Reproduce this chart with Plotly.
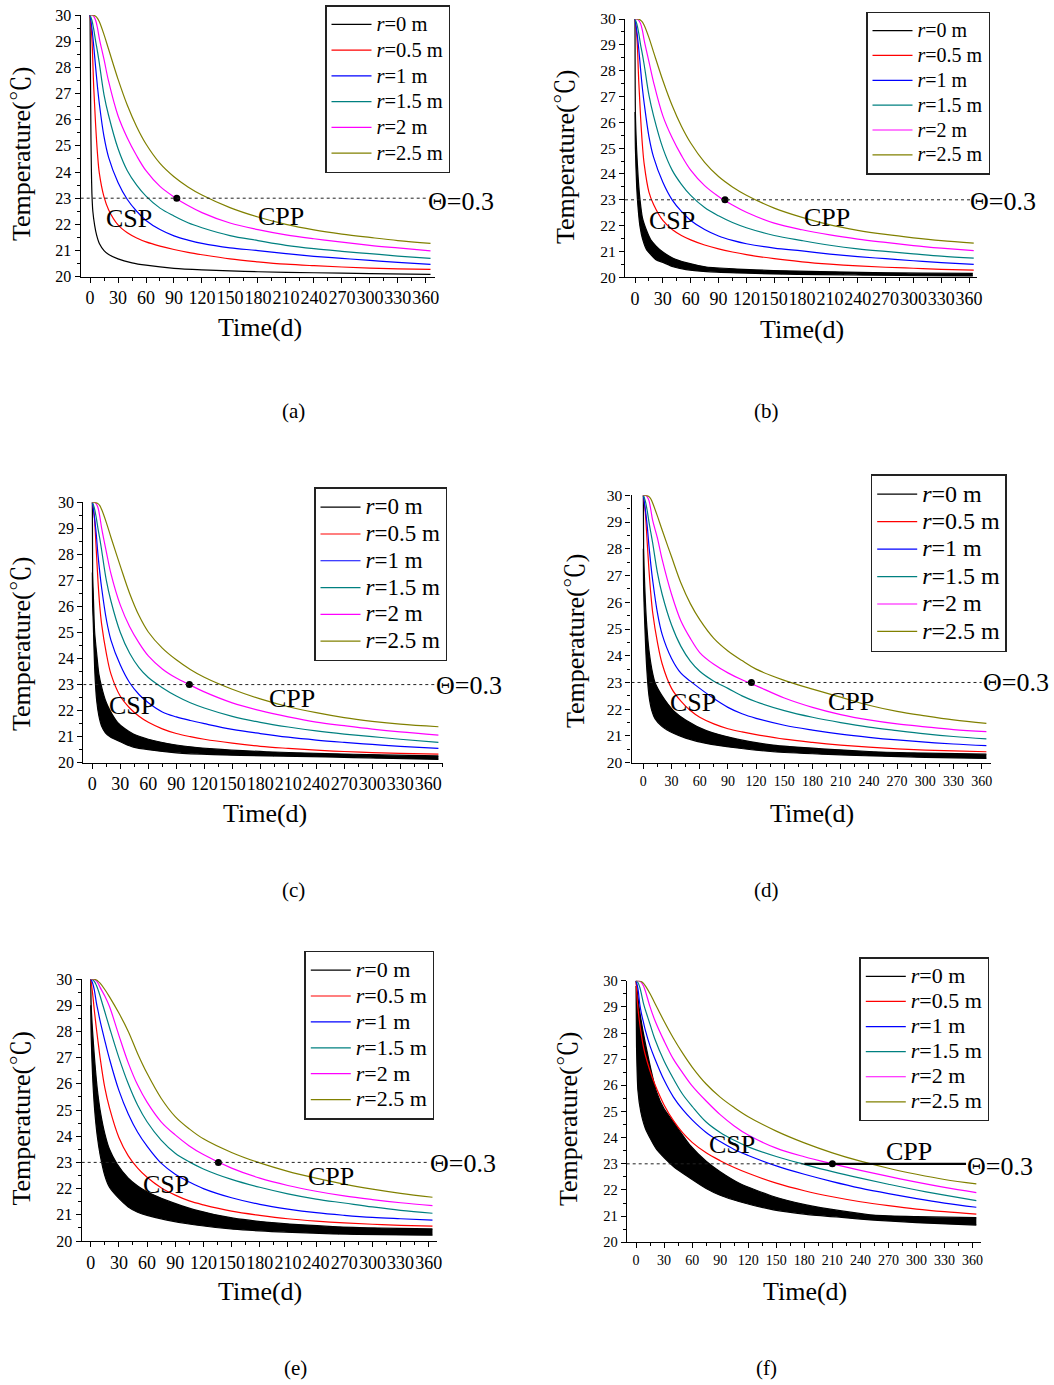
import plotly.graph_objects as go

W, H = 1054, 1385
FONT = "Liberation Serif, Times New Roman, Noto Serif CJK SC, Noto Sans CJK SC, serif"

RADII = ["0", "0.5", "1", "1.5", "2", "2.5"]
COLORS = ["#000000", "#FF0000", "#0000FF", "#008080", "#FF00FF", "#808000"]
PANEL_NAMES = ["(a)", "(b)", "(c)", "(d)", "(e)", "(f)"]
THRESHOLD = 23.0
THRESHOLD_LABEL = "Θ=0.3"
X_TICKS = [0, 30, 60, 90, 120, 150, 180, 210, 240, 270, 300, 330, 360]
Y_TICKS = [20, 21, 22, 23, 24, 25, 26, 27, 28, 29, 30]

# common day grids for the coloured curves
DAYS = [0, 2, 4, 6, 8, 10, 15, 20, 30, 40, 50, 60, 75, 90, 105, 120, 150, 180, 210, 240, 270, 300, 330, 365]
DAYS_C = [0, 2, 4, 6, 8, 10, 15, 20, 30, 40, 50, 60, 75, 90, 105, 120, 150, 180, 210, 240, 270, 300, 330, 371]
DAYS_EF = [0, 2, 4, 6, 8, 10, 15, 20, 30, 40, 50, 60, 75, 90, 105, 120, 150, 180, 210, 240, 270, 300, 330, 364]

# ---------------- panel (a) ----------------
A_R05 = [30, 29.1, 27.2, 25.8, 24.7, 23.95, 23.05, 22.55, 21.98, 21.68, 21.48, 21.33, 21.17, 21.04, 20.93, 20.84, 20.68, 20.57, 20.48, 20.42, 20.37, 20.33, 20.3, 20.28]
A_R1 = [30, 29.5, 28.8, 28.0, 27.25, 26.6, 25.35, 24.55, 23.6, 22.95, 22.5, 22.15, 21.8, 21.56, 21.4, 21.27, 21.1, 21.0, 20.88, 20.78, 20.7, 20.62, 20.55, 20.47]
A_R15 = [30, 29.8, 29.45, 29.0, 28.6, 28.15, 26.95, 26.15, 24.9, 24.05, 23.5, 23.08, 22.62, 22.32, 22.06, 21.87, 21.57, 21.38, 21.2, 21.07, 20.97, 20.88, 20.79, 20.7]
A_R2 = [30, 30, 29.95, 29.8, 29.5, 29.1, 28.3, 27.45, 26.15, 25.3, 24.62, 24.05, 23.45, 23.05, 22.72, 22.45, 22.05, 21.8, 21.6, 21.45, 21.32, 21.2, 21.1, 20.99]
A_R25 = [30, 30, 29.99, 29.95, 29.87, 29.74, 29.25, 28.68, 27.55, 26.55, 25.73, 25.07, 24.33, 23.82, 23.43, 23.12, 22.64, 22.28, 22.0, 21.79, 21.63, 21.5, 21.38, 21.27]
A_R0_DAYS = [0, 0.5, 1, 1.5, 2, 3, 5, 7, 10, 15, 20, 30, 45, 60, 90, 120, 150, 180, 240, 300, 365]
A_R0 = [30, 27.5, 25.3, 24.0, 23.2, 22.5, 21.95, 21.6, 21.27, 21.0, 20.85, 20.68, 20.53, 20.44, 20.32, 20.26, 20.22, 20.19, 20.15, 20.12, 20.09]

# ---------------- panel (b) ----------------
B_R05 = [30, 29.3, 27.6, 26.2, 25.1, 24.35, 23.3, 22.82, 22.2, 21.85, 21.62, 21.45, 21.25, 21.1, 20.98, 20.88, 20.72, 20.6, 20.51, 20.44, 20.39, 20.35, 20.31, 20.28]
B_R1 = [30, 29.5, 28.85, 28.05, 27.3, 26.7, 25.45, 24.65, 23.68, 23.0, 22.55, 22.2, 21.85, 21.6, 21.43, 21.3, 21.13, 21.02, 20.9, 20.8, 20.72, 20.64, 20.57, 20.5]
B_R15 = [30, 29.8, 29.45, 29.0, 28.62, 28.2, 27.05, 26.25, 25.0, 24.15, 23.6, 23.17, 22.7, 22.38, 22.12, 21.92, 21.62, 21.42, 21.24, 21.1, 21.0, 20.91, 20.82, 20.74]
B_R2 = [30, 30, 29.95, 29.82, 29.55, 29.15, 28.35, 27.55, 26.25, 25.4, 24.72, 24.15, 23.55, 23.13, 22.8, 22.52, 22.1, 21.84, 21.64, 21.48, 21.35, 21.23, 21.13, 21.03]
B_R25 = [30, 30, 29.99, 29.95, 29.88, 29.75, 29.28, 28.72, 27.62, 26.65, 25.85, 25.2, 24.45, 23.9, 23.5, 23.18, 22.68, 22.32, 22.03, 21.82, 21.66, 21.53, 21.42, 21.32]
B_R0_UP_DAYS = [0, 0.4, 1.8, 3.5, 5.4, 8, 12.6, 17, 23, 30, 41, 55, 77, 110, 149, 200, 257, 310, 364]
B_R0_UP = [30, 26.4, 24.9, 23.8, 23.0, 22.3, 21.8, 21.45, 21.2, 20.98, 20.74, 20.57, 20.4, 20.32, 20.26, 20.22, 20.18, 20.16, 20.15]
B_R0_LO_DAYS = [0, 0.4, 1.8, 3.5, 5.4, 8, 12.6, 17, 23, 30, 41, 55, 77, 110, 149, 200, 257, 310, 364]
B_R0_LO = [26.4, 25.0, 23.5, 22.6, 21.96, 21.5, 21.06, 20.88, 20.67, 20.58, 20.41, 20.3, 20.22, 20.17, 20.13, 20.1, 20.08, 20.06, 20.05]

# ---------------- panel (c) ----------------
C_R05 = [30, 29.5, 28.3, 27.0, 26.0, 25.3, 24.2, 23.4, 22.55, 22.1, 21.78, 21.55, 21.3, 21.12, 21.0, 20.9, 20.75, 20.63, 20.55, 20.48, 20.43, 20.39, 20.36, 20.33]
C_R1 = [30, 29.5, 28.85, 28.0, 27.3, 26.7, 25.5, 24.7, 23.75, 23.07, 22.62, 22.3, 21.95, 21.76, 21.62, 21.5, 21.28, 21.12, 20.98, 20.87, 20.78, 20.7, 20.63, 20.55]
C_R15 = [30, 29.8, 29.45, 29.0, 28.6, 28.15, 27.0, 26.2, 25.0, 24.2, 23.65, 23.27, 22.88, 22.56, 22.3, 22.1, 21.78, 21.55, 21.37, 21.22, 21.1, 21.0, 20.9, 20.78]
C_R2 = [30, 30, 29.95, 29.8, 29.45, 29.0, 28.1, 27.25, 26.05, 25.22, 24.6, 24.1, 23.6, 23.25, 22.98, 22.72, 22.3, 22.0, 21.76, 21.56, 21.42, 21.29, 21.18, 21.06]
C_R25 = [30, 30, 29.99, 29.95, 29.87, 29.72, 29.22, 28.65, 27.55, 26.5, 25.65, 25.02, 24.4, 23.95, 23.58, 23.28, 22.82, 22.45, 22.15, 21.92, 21.73, 21.59, 21.48, 21.38]
C_R0_UP_DAYS = [0, 0.3, 1, 2.5, 4.6, 7, 10, 14, 19, 27, 35, 44, 60, 90, 130, 187, 250, 310, 371]
C_R0_UP = [30, 27.3, 26.5, 25.0, 24.2, 23.4, 22.9, 22.4, 22.0, 21.55, 21.3, 21.1, 20.9, 20.68, 20.53, 20.42, 20.35, 20.3, 20.26]
C_R0_LO_DAYS = [0, 0.3, 1, 2.5, 4.6, 7, 10, 14, 19, 27, 35, 44, 60, 90, 130, 187, 250, 310, 371]
C_R0_LO = [27.3, 26.0, 25.35, 23.6, 22.4, 21.8, 21.4, 21.15, 21.0, 20.85, 20.72, 20.6, 20.5, 20.38, 20.31, 20.26, 20.22, 20.17, 20.13]

# ---------------- panel (d) ----------------
D_R05 = [30, 29.4, 28.3, 27.2, 26.3, 25.6, 24.5, 23.7, 22.78, 22.3, 21.95, 21.7, 21.45, 21.27, 21.15, 21.05, 20.88, 20.76, 20.66, 20.58, 20.52, 20.47, 20.44, 20.41]
D_R1 = [30, 29.5, 28.9, 28.1, 27.4, 26.8, 25.6, 24.8, 23.9, 23.35, 23.05, 22.78, 22.4, 22.07, 21.83, 21.66, 21.4, 21.22, 21.07, 20.95, 20.85, 20.77, 20.7, 20.64]
D_R15 = [30, 29.8, 29.45, 29.0, 28.6, 28.2, 27.1, 26.3, 25.15, 24.35, 23.8, 23.42, 23.05, 22.78, 22.5, 22.28, 21.95, 21.7, 21.5, 21.33, 21.2, 21.08, 20.98, 20.89]
D_R2 = [30, 30, 29.95, 29.8, 29.45, 29.05, 28.4, 27.6, 26.3, 25.3, 24.65, 24.12, 23.68, 23.36, 23.1, 22.88, 22.42, 22.07, 21.8, 21.6, 21.45, 21.34, 21.24, 21.16]
D_R25 = [30, 30, 29.99, 29.95, 29.86, 29.7, 29.22, 28.7, 27.7, 26.72, 25.95, 25.35, 24.65, 24.18, 23.82, 23.5, 23.08, 22.75, 22.45, 22.15, 21.92, 21.75, 21.6, 21.47]
D_R0_UP_DAYS = [0, 0.3, 1.5, 3.5, 6, 9, 12.4, 20, 32, 45, 67, 100, 138, 190, 245, 300, 365]
D_R0_UP = [30, 28.0, 26.6, 25.2, 24.2, 23.5, 23.0, 22.5, 21.95, 21.6, 21.2, 20.88, 20.66, 20.52, 20.41, 20.36, 20.32]
D_R0_LO_DAYS = [0, 0.3, 1.5, 3.5, 6, 9, 12.4, 20, 32, 45, 67, 100, 138, 190, 245, 300, 365]
D_R0_LO = [28.0, 26.5, 25.2, 23.6, 22.5, 21.95, 21.65, 21.35, 21.1, 20.92, 20.72, 20.55, 20.41, 20.32, 20.25, 20.2, 20.16]

# ---------------- panel (e) ----------------
E_R05 = [30, 29.45, 28.75, 28.12, 27.55, 27.0, 25.85, 25.08, 23.95, 23.25, 22.78, 22.43, 22.03, 21.75, 21.53, 21.38, 21.14, 20.98, 20.85, 20.76, 20.69, 20.64, 20.6, 20.57]
E_R1 = [30, 29.85, 29.55, 29.1, 28.75, 28.4, 27.65, 26.95, 25.75, 24.85, 24.15, 23.62, 22.97, 22.55, 22.25, 22.0, 21.65, 21.4, 21.22, 21.08, 20.98, 20.9, 20.85, 20.8]
E_R15 = [30, 29.97, 29.9, 29.76, 29.57, 29.35, 28.75, 28.15, 27.0, 26.0, 25.18, 24.55, 23.85, 23.35, 23.02, 22.75, 22.35, 22.05, 21.8, 21.6, 21.45, 21.3, 21.17, 21.06]
E_R2 = [30, 30, 29.98, 29.93, 29.83, 29.68, 29.35, 28.95, 27.85, 26.8, 25.95, 25.3, 24.55, 24.05, 23.63, 23.3, 22.78, 22.4, 22.12, 21.9, 21.72, 21.58, 21.46, 21.35]
E_R25 = [30, 30, 29.99, 29.96, 29.91, 29.84, 29.6, 29.32, 28.7, 28.0, 27.15, 26.4, 25.45, 24.75, 24.28, 23.9, 23.38, 22.98, 22.66, 22.4, 22.17, 21.98, 21.82, 21.67]
E_R0_UP_DAYS = [0, 0.5, 2, 4, 7, 10, 15, 20, 28, 40, 50, 60, 81, 110, 152, 200, 258, 310, 364]
E_R0_UP = [30, 29.0, 28.0, 27.0, 25.8, 25.0, 24.1, 23.5, 22.95, 22.4, 22.1, 21.88, 21.55, 21.2, 20.87, 20.68, 20.55, 20.49, 20.46]
E_R0_LO_DAYS = [0, 0.5, 2, 4, 7, 10, 15, 20, 28, 40, 50, 60, 81, 110, 152, 200, 258, 310, 364]
E_R0_LO = [29.0, 27.8, 26.3, 25.1, 24.0, 23.3, 22.5, 22.05, 21.7, 21.3, 21.1, 20.98, 20.8, 20.62, 20.45, 20.35, 20.27, 20.24, 20.22]

# ---------------- panel (f) ----------------
F_R05 = [30, 28.95, 28.35, 27.85, 27.45, 27.15, 26.55, 26.05, 25.25, 24.65, 24.18, 23.82, 23.42, 23.12, 22.86, 22.64, 22.26, 21.97, 21.74, 21.55, 21.4, 21.27, 21.17, 21.08]
F_R1 = [30, 29.7, 29.1, 28.7, 28.4, 28.1, 27.5, 27.03, 26.2, 25.55, 25.07, 24.68, 24.2, 23.85, 23.55, 23.32, 22.92, 22.6, 22.32, 22.07, 21.86, 21.67, 21.5, 21.34]
F_R15 = [30, 29.93, 29.75, 29.45, 29.12, 28.88, 28.33, 27.78, 26.93, 26.25, 25.65, 25.2, 24.6, 24.2, 23.9, 23.65, 23.28, 22.98, 22.7, 22.45, 22.22, 22.0, 21.8, 21.59]
F_R2 = [30, 30, 29.98, 29.92, 29.8, 29.6, 29.0, 28.5, 27.7, 27.0, 26.47, 25.98, 25.4, 24.88, 24.45, 24.1, 23.6, 23.27, 23.0, 22.75, 22.52, 22.3, 22.1, 21.9]
F_R25 = [30, 30, 29.99, 29.96, 29.9, 29.8, 29.5, 29.15, 28.45, 27.8, 27.22, 26.7, 26.05, 25.55, 25.15, 24.8, 24.25, 23.8, 23.42, 23.1, 22.83, 22.6, 22.4, 22.23]
F_R0_UP_DAYS = [0, 4, 10, 22, 30, 40, 58, 75, 90, 111, 147, 182, 220, 254, 300, 364]
F_R0_UP = [30, 28.8, 27.6, 25.75, 25.1, 24.6, 23.7, 23.1, 22.7, 22.25, 21.75, 21.43, 21.2, 21.04, 20.98, 20.94]
F_R0_LO_DAYS = [0, 0.5, 2, 5, 10, 22, 40, 58, 75, 90, 111, 147, 182, 220, 254, 300, 364]
F_R0_LO = [29.8, 27.5, 25.8, 25.0, 24.35, 23.55, 22.9, 22.45, 22.06, 21.8, 21.55, 21.24, 21.07, 20.95, 20.85, 20.75, 20.66]

# day where the r=2 m curve reaches the threshold (black dot)
DOT_DAYS = [93, 97, 104, 115, 136, 210]
# end of the dashed threshold line (days); panel (f) also has a solid segment
DASH_END = [362, 361, 367, 360, 359, 180]
F_SOLID = [180, 353]

PANELS = [
    dict(days=DAYS, curves=[A_R05, A_R1, A_R15, A_R2, A_R25], r0=(A_R0_DAYS, A_R0), band=None),
    dict(days=DAYS, curves=[B_R05, B_R1, B_R15, B_R2, B_R25], r0=None,
         band=(B_R0_UP_DAYS, B_R0_UP, B_R0_LO_DAYS, B_R0_LO)),
    dict(days=DAYS_C, curves=[C_R05, C_R1, C_R15, C_R2, C_R25], r0=None,
         band=(C_R0_UP_DAYS, C_R0_UP, C_R0_LO_DAYS, C_R0_LO)),
    dict(days=DAYS, curves=[D_R05, D_R1, D_R15, D_R2, D_R25], r0=None,
         band=(D_R0_UP_DAYS, D_R0_UP, D_R0_LO_DAYS, D_R0_LO)),
    dict(days=DAYS_EF, curves=[E_R05, E_R1, E_R15, E_R2, E_R25], r0=None,
         band=(E_R0_UP_DAYS, E_R0_UP, E_R0_LO_DAYS, E_R0_LO)),
    dict(days=DAYS_EF, curves=[F_R05, F_R1, F_R15, F_R2, F_R25], r0=None,
         band=(F_R0_UP_DAYS, F_R0_UP, F_R0_LO_DAYS, F_R0_LO)),
]

# ---------------- layout geometry (pixels) ----------------
BOX = [(80.7, 435, 15, 276.7), (625, 976.7, 19, 277.3), (83.3, 442.7, 502.3, 762.7),
       (631.5, 990.7, 495.3, 762.7), (81.7, 436.7, 979, 1241), (626.7, 981, 980.7, 1242.3)]
XRANGE = [(-10, 369.8), (-10.8, 368.2), (-9.7, 375.6), (-12.6, 369.6), (-9.6, 368.5), (-10, 369)]
XTICK_FONT = [18, 18, 18, 14, 18, 14]
YTICK_FONT = [16, 15.5, 16, 15.5, 16, 14.5]
LEGEND_POS = [(325, 5), (866, 11.7), (314, 487.3), (870.7, 474), (304.3, 950.7), (859.3, 957.3)]
LEGEND_ROW = [17.5, 16.8, 18.3, 18.8, 17.6, 17]      # sets row spacing
LEGEND_TEXT = [20.5, 20, 23, 24, 22, 22]             # visible text size
X_TITLE_POS = [(260, 327), (802, 329), (265, 813), (812, 813), (260, 1291), (805, 1291)]
Y_TITLE_POS = [(21, 154), (565, 157), (22, 644), (575, 641), (20.5, 1119), (568, 1119)]
PANEL_LABEL_POS = [(293, 411), (766, 411), (293, 890), (766, 890), (295, 1368), (766, 1368)]
CSP_POS = [(129, 218), (672, 220), (131.7, 705), (693.3, 702), (166, 1184), (731.5, 1144)]
CPP_POS = [(280.7, 216), (826.5, 217), (292, 699), (850.5, 701), (331, 1176), (909, 1151)]
THETA_POS = [(460.7, 201), (1003, 202), (469, 686), (1016, 682.5), (462.5, 1163), (1000, 1166)]


def px(x):
    return x / W


def py(y):
    return 1 - y / H


fig = go.Figure()
annotations = []
shapes = []
layout = dict(width=W, height=H, margin=dict(l=0, r=0, t=0, b=0, autoexpand=False),
              paper_bgcolor="white", plot_bgcolor="white",
              font=dict(family=FONT, color="black"), showlegend=True)

LINE_W = 1.2
SMOOTH = 1.0


def lname(i, k):
    return f'<span style="font-size:{LEGEND_TEXT[i]}px"><i>r</i>={RADII[k]} m</span>'


for i, p in enumerate(PANELS):
    n = i + 1
    xa = "x" if n == 1 else f"x{n}"
    ya = "y" if n == 1 else f"y{n}"
    leg = "legend" if n == 1 else f"legend{n}"

    # r = 0 m
    if p["band"] is None:
        d0, t0 = p["r0"]
        fig.add_trace(go.Scatter(x=d0, y=t0, mode="lines", name=lname(i, 0),
                                 line=dict(color=COLORS[0], width=LINE_W, shape="spline", smoothing=0.6),
                                 xaxis=xa, yaxis=ya, legend=leg))
    else:
        ud, ut, ld, lt = p["band"]
        fig.add_trace(go.Scatter(x=ud, y=ut, mode="lines", name=lname(i, 0),
                                 line=dict(color=COLORS[0], width=LINE_W, shape="spline", smoothing=0.6),
                                 xaxis=xa, yaxis=ya, legend=leg))
        fig.add_trace(go.Scatter(x=ld, y=lt, mode="lines", showlegend=False, fill="tonexty",
                                 fillcolor=COLORS[0],
                                 line=dict(color=COLORS[0], width=LINE_W, shape="spline", smoothing=0.6),
                                 xaxis=xa, yaxis=ya, legend=leg))
    for k, vals in enumerate(p["curves"]):
        fig.add_trace(go.Scatter(x=p["days"], y=vals, mode="lines", name=lname(i, k + 1),
                                 line=dict(color=COLORS[k + 1], width=LINE_W, shape="spline", smoothing=SMOOTH),
                                 xaxis=xa, yaxis=ya, legend=leg))
    fig.add_trace(go.Scatter(x=[DOT_DAYS[i]], y=[THRESHOLD], mode="markers", showlegend=False,
                             marker=dict(color="black", size=7, symbol="circle"),
                             xaxis=xa, yaxis=ya, legend=leg))

    l, r, t, b = BOX[i]
    axkey = "xaxis" if n == 1 else f"xaxis{n}"
    aykey = "yaxis" if n == 1 else f"yaxis{n}"
    layout[axkey] = dict(domain=[px(l), px(r)], range=list(XRANGE[i]), anchor=ya,
                         tickmode="array", tickvals=X_TICKS, ticktext=[str(v) for v in X_TICKS],
                         tickangle=0, ticks="outside", ticklen=5, tickwidth=1, tickcolor="black",
                         minor=dict(tickmode="linear", tick0=0, dtick=15, ticks="outside", ticklen=3,
                                    tickcolor="black", showgrid=False),
                         showline=True, linecolor="black", linewidth=1.3, showgrid=False, zeroline=False,
                         automargin=False,
                         tickfont=dict(family=FONT, size=XTICK_FONT[i], color="black"))
    layout[aykey] = dict(domain=[py(b), py(t)], range=[20, 30], anchor=xa,
                         tickmode="array", tickvals=Y_TICKS, ticks="outside", ticklen=5, tickwidth=1,
                         tickcolor="black",
                         minor=dict(tickmode="linear", tick0=20, dtick=0.5, ticks="outside", ticklen=3,
                                    tickcolor="black", showgrid=False),
                         showline=True, linecolor="black", linewidth=1.3, showgrid=False, zeroline=False,
                         automargin=False,
                         tickfont=dict(family=FONT, size=YTICK_FONT[i], color="black"))

    shapes.append(dict(type="line", xref=xa, yref=ya, x0=XRANGE[i][0], x1=DASH_END[i],
                       y0=THRESHOLD, y1=THRESHOLD, line=dict(color="#222", width=1, dash="3px,3px")))
    if i == 5:
        shapes.append(dict(type="line", xref=xa, yref=ya, x0=F_SOLID[0], x1=F_SOLID[1],
                           y0=THRESHOLD, y1=THRESHOLD, line=dict(color="black", width=2.2)))

    lx, lyy = LEGEND_POS[i]
    layout[leg] = dict(x=px(lx), y=py(lyy), xanchor="left", yanchor="top", traceorder="normal",
                       bordercolor="#222", borderwidth=1.5, bgcolor="white",
                       font=dict(family=FONT, size=LEGEND_ROW[i], color="black"),
                       tracegroupgap=0, itemwidth=40)

    def ann(text, pos, size, angle=0):
        annotations.append(dict(text=text, x=px(pos[0]), y=py(pos[1]), xref="paper", yref="paper",
                                xanchor="center", yanchor="middle", showarrow=False, textangle=angle,
                                font=dict(family=FONT, size=size, color="black")))

    ann("Time(d)", X_TITLE_POS[i], 26)
    ann("Temperature(℃)", Y_TITLE_POS[i], 26, -90)
    ann(PANEL_NAMES[i], PANEL_LABEL_POS[i], 21)
    ann("CSP", CSP_POS[i], 26)
    ann("CPP", CPP_POS[i], 26)
    ann(THRESHOLD_LABEL, THETA_POS[i], 26)

layout["annotations"] = annotations
layout["shapes"] = shapes
fig.update_layout(**layout)
fig.write_html("out.html")
